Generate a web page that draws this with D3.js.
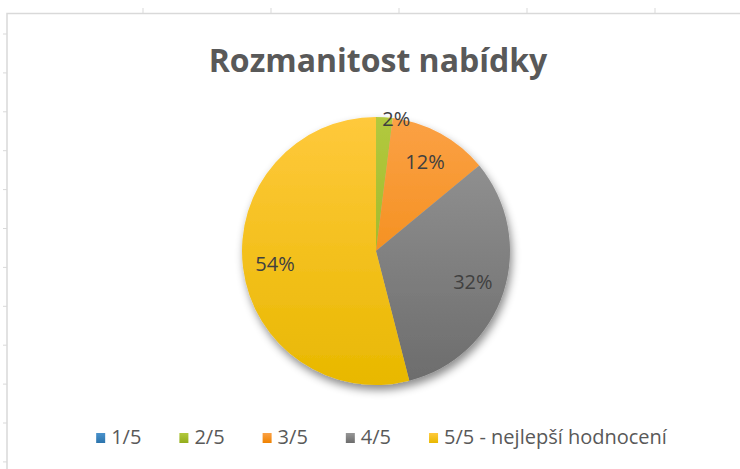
<!DOCTYPE html>
<html>
<head>
<meta charset="utf-8">
<script src="https://cdn.jsdelivr.net/npm/d3@7"></script>
<style>
  body { margin: 0; background: #fff; }
  svg { display: block; }
</style>
</head>
<body>
<svg id="chart" width="740" height="469"></svg>
<script>
// chart data
const title = 'Rozmanitost nabídky'
const categories = ['1/5', '2/5', '3/5', '4/5', '5/5 - nejlepší hodnocení']
const values = [0, 2, 12, 32, 54]
const colorsLight = ['#4a92cc', '#b2c93e', '#fba145', '#979797', '#ffc93c']
const colorsDark = ['#2c74ac', '#93ad1c', '#ef8200', '#6c6c6c', '#e8b800']

const width = 740
const height = 469
const cx = 376
const cy = 251
const R = 134

const data = categories.map((c, i) => ({ cat: c, value: values[i], i }))

const svg = d3.select('#chart')
const defs = svg.append('defs')

// spreadsheet frame behind the chart
const frame = svg.append('g').attr('class', 'frame')
frame.append('path')
  .attr('d', `M7,${height}V13.5H${width}`)
  .attr('fill', 'none')
  .attr('stroke', '#d9d9d9')
  .attr('stroke-width', 1.5)
frame.selectAll('.colTick')
  .data(d3.range(143, width, 128))
  .join('line')
  .attr('x1', d => d).attr('x2', d => d)
  .attr('y1', 8).attr('y2', 13)
  .attr('stroke', '#d9d9d9')
frame.selectAll('.rowTick')
  .data(d3.range(34, height, 38.9))
  .join('line')
  .attr('x1', 3).attr('x2', 7)
  .attr('y1', d => d).attr('y2', d => d)
  .attr('stroke', '#d9d9d9')

// gradients, one per series
data.forEach(d => {
  const g = defs.append('linearGradient')
    .attr('id', 'grad' + d.i)
    .attr('gradientUnits', 'userSpaceOnUse')
    .attr('x1', 0).attr('x2', 0)
    .attr('y1', -R).attr('y2', R)
  g.append('stop').attr('offset', '0%').attr('stop-color', colorsLight[d.i])
  g.append('stop').attr('offset', '100%').attr('stop-color', colorsDark[d.i])

  const l = defs.append('linearGradient')
    .attr('id', 'legGrad' + d.i)
    .attr('x1', 0).attr('x2', 0)
    .attr('y1', 0).attr('y2', 1)
  l.append('stop').attr('offset', '0%').attr('stop-color', colorsLight[d.i])
  l.append('stop').attr('offset', '100%').attr('stop-color', colorsDark[d.i])
})

const shadow = defs.append('filter')
  .attr('id', 'shadow')
  .attr('x', '-20%').attr('y', '-20%')
  .attr('width', '140%').attr('height', '140%')
shadow.append('feDropShadow')
  .attr('dx', 2).attr('dy', 5)
  .attr('stdDeviation', 4)
  .attr('flood-color', '#000')
  .attr('flood-opacity', 0.45)

// title
svg.append('text')
  .attr('x', 378)
  .attr('y', 72)
  .attr('text-anchor', 'middle')
  .style('font-family', "'Open Sans', sans-serif")
  .style('font-weight', 700)
  .style('font-size', '32px')
  .style('fill', '#595959')
  .text(title)

// pie
const pie = d3.pie().sort(null).value(d => d.value)
const arcs = pie(data)
const arc = d3.arc().innerRadius(0).outerRadius(R)

const pieG = svg.append('g')
  .attr('transform', `translate(${cx},${cy})`)

pieG.append('g')
  .attr('filter', 'url(#shadow)')
  .selectAll('path')
  .data(arcs)
  .join('path')
  .attr('d', arc)
  .attr('fill', d => `url(#grad${d.data.i})`)

// data labels
const labelPos = d => {
  const a = (d.startAngle + d.endAngle) / 2
  const r = d.data.value < 5 ? R * 0.99 : R * 0.76
  return [r * Math.sin(a), -r * Math.cos(a)]
}

pieG.append('g')
  .selectAll('text')
  .data(arcs.filter(d => d.data.value > 0))
  .join('text')
  .attr('x', d => labelPos(d)[0] - (d.data.value < 5 ? 2 : 0))
  .attr('y', d => labelPos(d)[1])
  .attr('dy', '0.35em')
  .attr('text-anchor', d => d.data.value < 5 ? 'start' : 'middle')
  .style('font-family', "'Open Sans', sans-serif")
  .style('font-size', '20px')
  .style('fill', '#404040')
  .text(d => `${d.data.value}%`)

// legend
const legendGap = 38
const legend = svg.append('g')
const items = legend.selectAll('g')
  .data(data)
  .join('g')
items.append('rect')
  .attr('width', 9)
  .attr('height', 10)
  .attr('y', -11)
  .attr('fill', d => `url(#legGrad${d.i})`)
items.append('text')
  .attr('x', 15)
  .style('font-family', "'Open Sans', sans-serif")
  .style('font-size', '20px')
  .style('fill', '#595959')
  .text(d => d.cat)

let xPos = 0
items.each(function () {
  const w = this.getBBox().width
  d3.select(this).attr('transform', `translate(${xPos},0)`)
  xPos += w + legendGap
})
const legendW = xPos - legendGap
legend.attr('transform', `translate(${382 - legendW / 2},444)`)
</script>
</body>
</html>
